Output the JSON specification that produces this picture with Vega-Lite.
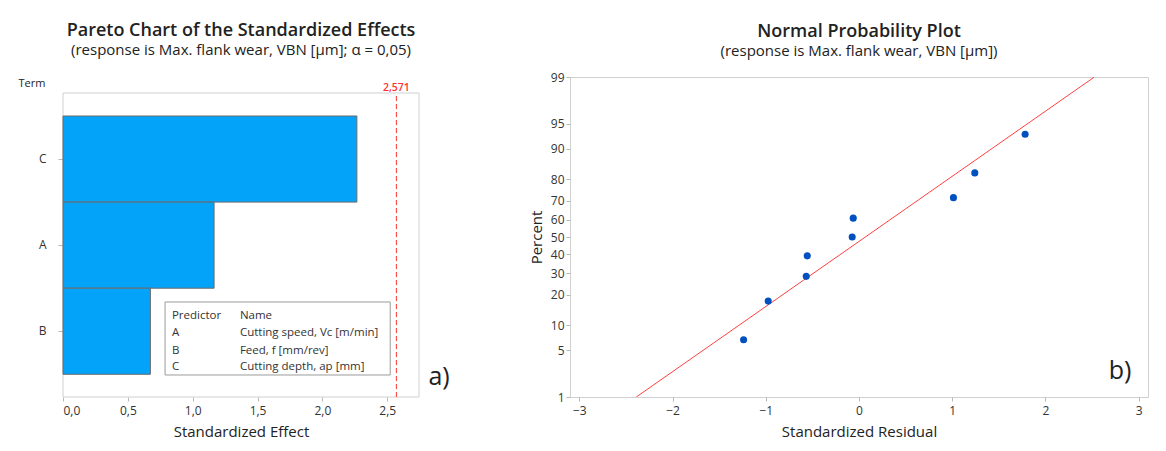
{
  "$schema": "https://vega.github.io/schema/vega-lite/v6.json",
  "padding": {"left": 18, "top": 22, "right": 5, "bottom": 5},
  "background": "white",
  "config": {
    "font": "Open Sans",
    "view": {"stroke": "#d0d0d0", "strokeWidth": 1},
    "axis": {"domain": false, "grid": false, "tickColor": "#b8b8b8", "labelColor": "#333333", "labelFontSize": 12, "titleColor": "#222222", "titleFontSize": 15, "titleFontWeight": "normal"},
    "title": {"fontSize": 18, "fontWeight": 600, "color": "#222222", "subtitleFontSize": 15, "subtitleColor": "#222222", "subtitlePadding": 3, "anchor": "middle"}
  },
  "datasets": {
    "effects": [
      {"term": "C", "effect": 2.266},
      {"term": "A", "effect": 1.165},
      {"term": "B", "effect": 0.674}
    ],
    "legendText": [
      {"lx": 0.84, "ly": 26.6, "t": "Predictor"},
      {"lx": 1.364, "ly": 26.6, "t": "Name"},
      {"lx": 0.84, "ly": 20.9, "t": "A"},
      {"lx": 1.364, "ly": 20.9, "t": "Cutting speed, Vc [m/min]"},
      {"lx": 0.84, "ly": 15.1, "t": "B"},
      {"lx": 1.364, "ly": 15.1, "t": "Feed, f [mm/rev]"},
      {"lx": 0.84, "ly": 9.97, "t": "C"},
      {"lx": 1.364, "ly": 9.97, "t": "Cutting depth, ap [mm]"}
    ],
    "residuals": [
      {"residual": -1.238, "percent": 6.76, "z": -1.494},
      {"residual": -0.974, "percent": 17.57, "z": -0.932},
      {"residual": -0.566, "percent": 28.38, "z": -0.572},
      {"residual": -0.555, "percent": 39.19, "z": -0.274},
      {"residual": -0.073, "percent": 50.0, "z": 0.0},
      {"residual": -0.062, "percent": 60.81, "z": 0.274},
      {"residual": 1.013, "percent": 71.62, "z": 0.572},
      {"residual": 1.242, "percent": 82.43, "z": 0.932},
      {"residual": 1.782, "percent": 93.24, "z": 1.494}
    ],
    "fitLine": [
      {"residual": -2.389, "z": -2.3263},
      {"residual": 2.525, "z": 2.3263}
    ]
  },
  "spacing": 78,
  "hconcat": [
    {
      "width": 356,
      "height": 320,
      "view": {"stroke": null},
      "title": {"text": "Pareto Chart of the Standardized Effects", "subtitle": "(response is Max. flank wear, VBN [µm]; α = 0,05)", "offset": 19},
      "layer": [
        {
          "data": {"values": [{"fx1": 0, "fx2": 2.745, "fy1": 0, "fy2": 100}]},
          "mark": {"type": "rect", "fill": "white", "stroke": "#d0d0d0", "strokeWidth": 1},
          "encoding": {
            "x": {"field": "fx1", "type": "quantitative", "scale": {"domain": [0, 2.745], "nice": false}},
            "x2": {"field": "fx2"},
            "y": {"field": "fy1", "type": "quantitative", "scale": {"domain": [0, 105.263], "nice": false, "zero": false}, "axis": null},
            "y2": {"field": "fy2"}
          }
        },
        {
          "data": {"name": "effects"},
          "mark": {"type": "bar", "fill": "#02A3F9", "stroke": "#6b6b6b", "strokeWidth": 1},
          "encoding": {
            "y": {"field": "term", "type": "nominal", "sort": ["C", "A", "B"], "scale": {"paddingInner": 0, "paddingOuter": 0.3583, "align": 0.632},
              "axis": {"title": "Term", "titleAngle": 0, "titleAlign": "left", "titleBaseline": "middle", "titleX": -45, "titleY": 6, "titleFontSize": 11, "tickSize": 5, "labelPadding": 12, "labelFontSize": 12}},
            "x": {"field": "effect", "type": "quantitative", "scale": {"domain": [0, 2.745], "nice": false},
              "axis": {"title": "Standardized Effect", "values": [0, 0.5, 1, 1.5, 2, 2.5], "labelExpr": "replace(format(datum.value, '.1f'), '.', ',')", "tickSize": 4, "labelPadding": 4, "titlePadding": 8}}
          }
        },
        {
          "data": {"values": [{"crit": 2.571, "cy1": 0, "cy2": 100}]},
          "mark": {"type": "rule", "stroke": "#ff4d4d", "strokeDash": [5, 3], "strokeWidth": 1.2},
          "encoding": {
            "x": {"field": "crit", "type": "quantitative"},
            "y": {"field": "cy1", "type": "quantitative", "scale": {"domain": [0, 105.263], "nice": false, "zero": false}, "axis": null},
            "y2": {"field": "cy2"}
          }
        },
        {
          "data": {"values": [{"crit": 2.571, "ly": 101.7, "label": "2,571"}]},
          "mark": {"type": "text", "color": "#ff3030", "fontSize": 10.5, "fontWeight": 600, "align": "center", "baseline": "middle"},
          "encoding": {
            "x": {"field": "crit", "type": "quantitative"},
            "y": {"field": "ly", "type": "quantitative", "scale": {"domain": [0, 105.263], "nice": false, "zero": false}, "axis": null},
            "text": {"field": "label"}
          }
        },
        {
          "data": {"values": [{"x1": 0.787, "x2": 2.523, "y1": 7.24, "y2": 31.25}]},
          "mark": {"type": "rect", "fill": "white", "stroke": "#9a9a9a", "strokeWidth": 1},
          "encoding": {
            "x": {"field": "x1", "type": "quantitative"},
            "x2": {"field": "x2"},
            "y": {"field": "y1", "type": "quantitative", "scale": {"domain": [0, 105.263], "nice": false, "zero": false}, "axis": null},
            "y2": {"field": "y2"}
          }
        },
        {
          "data": {"name": "legendText"},
          "mark": {"type": "text", "align": "left", "baseline": "middle", "fontSize": 11.5, "color": "#333333"},
          "encoding": {
            "x": {"field": "lx", "type": "quantitative"},
            "y": {"field": "ly", "type": "quantitative", "scale": {"domain": [0, 105.263], "nice": false, "zero": false}, "axis": null},
            "text": {"field": "t"}
          }
        },
        {
          "data": {"values": [{"px": 2.9, "py": 6.7, "label": "a)"}]},
          "mark": {"type": "text", "align": "center", "baseline": "middle", "fontSize": 25, "color": "#222222"},
          "encoding": {
            "x": {"field": "px", "type": "quantitative"},
            "y": {"field": "py", "type": "quantitative", "scale": {"domain": [0, 105.263], "nice": false, "zero": false}, "axis": null},
            "text": {"field": "label"}
          }
        }
      ],
      "resolve": {"scale": {"y": "independent"}}
    },
    {
      "width": 578,
      "height": 320,
      "title": {"text": "Normal Probability Plot", "subtitle": "(response is Max. flank wear, VBN [µm])", "offset": 12},
      "encoding": {
        "x": {"field": "residual", "type": "quantitative", "scale": {"domain": [-3.1, 3.1], "nice": false, "zero": false},
          "axis": {"title": "Standardized Residual", "values": [-3, -2, -1, 0, 1, 2, 3], "tickSize": 4, "labelPadding": 4, "titlePadding": 8}},
        "y": {"field": "z", "type": "quantitative", "scale": {"domain": [-2.3263, 2.3263], "nice": false, "zero": false},
          "axis": {"title": "Percent", "values": [-2.3263, -1.6449, -1.2816, -0.8416, -0.5244, -0.2533, 0, 0.2533, 0.5244, 0.8416, 1.2816, 1.6449, 2.3263], "labelExpr": "format(round(cumulativeNormal(datum.value) * 100), 'd')", "tickSize": 4, "labelPadding": 2, "titlePadding": 6}}
      },
      "layer": [
        {
          "data": {"name": "fitLine"},
          "mark": {"type": "line", "color": "#ff4040", "strokeWidth": 1, "clip": true}
        },
        {
          "data": {"name": "residuals"},
          "mark": {"type": "point", "filled": true, "shape": "circle", "size": 50, "color": "#0050c0", "opacity": 1}
        },
        {
          "data": {"values": [{"residual": 2.8, "z": -1.953, "label": "b)"}]},
          "mark": {"type": "text", "align": "center", "baseline": "middle", "fontSize": 25, "color": "#222222"},
          "encoding": {"text": {"field": "label"}}
        }
      ]
    }
  ]
}
